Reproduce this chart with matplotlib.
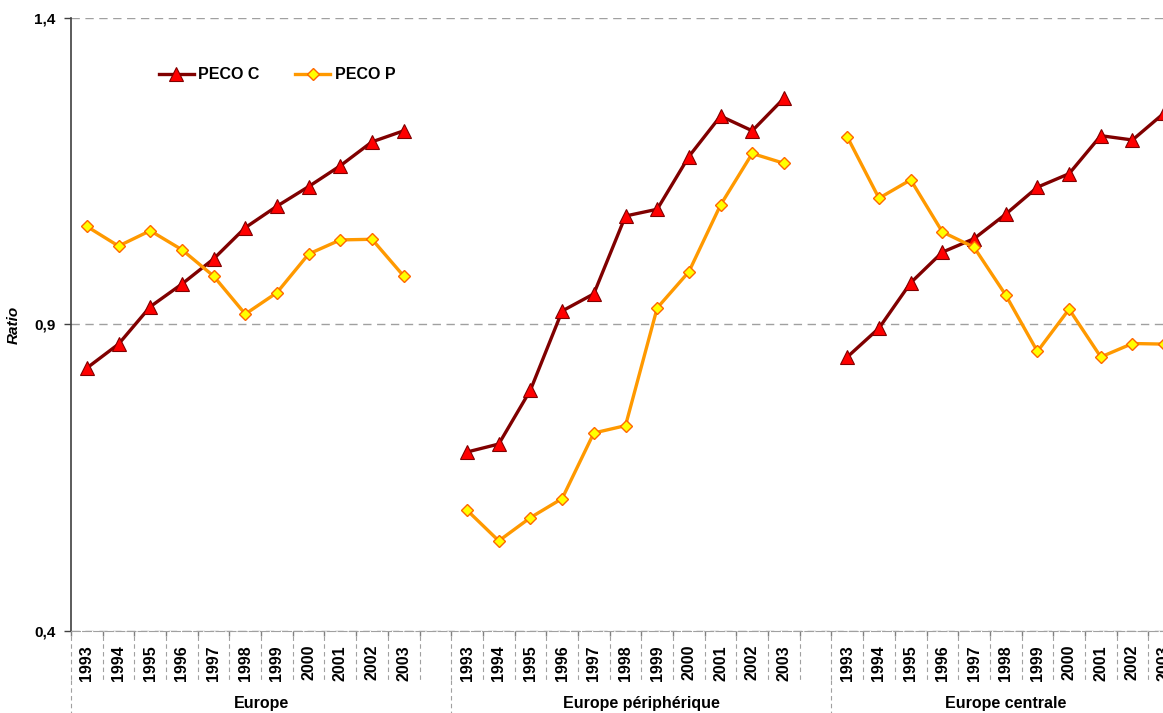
import numpy as np
import matplotlib
matplotlib.use("Agg")
import matplotlib.pyplot as plt
from matplotlib.transforms import blended_transform_factory

plt.rcParams["font.family"] = ["Liberation Sans", "DejaVu Sans"]
plt.rcParams["font.weight"] = "bold"

years = [str(y) for y in range(1993, 2004)]
groups = ["Europe", "Europe périphérique", "Europe centrale"]

peco_c = {
    "Europe": [0.829, 0.868, 0.929, 0.966, 1.007, 1.058, 1.093, 1.125, 1.159, 1.198, 1.216],
    "Europe périphérique": [0.692, 0.705, 0.793, 0.922, 0.950, 1.077, 1.088, 1.174, 1.240, 1.216, 1.269],
    "Europe centrale": [0.847, 0.894, 0.968, 1.018, 1.040, 1.080, 1.124, 1.146, 1.208, 1.201, 1.245],
}
peco_p = {
    "Europe": [1.060, 1.028, 1.053, 1.022, 0.979, 0.917, 0.952, 1.015, 1.038, 1.039, 0.979],
    "Europe périphérique": [0.597, 0.547, 0.585, 0.616, 0.723, 0.735, 0.927, 0.986, 1.095, 1.179, 1.163],
    "Europe centrale": [1.206, 1.106, 1.136, 1.051, 1.026, 0.948, 0.856, 0.925, 0.847, 0.869, 0.868],
}

W, H = 1163, 713
fig = plt.figure(figsize=(W / 100, H / 100), dpi=100)
# axis runs past the right edge of the canvas (last category is cut off)
ax = fig.add_axes([71 / W, (H - 631) / H, (1180 - 71) / W, 613 / H])

n_per = len(years) + 1          # one blank slot after each group
n_cat = n_per * len(groups) - 1
ax.set_xlim(-0.5, n_cat - 0.5)
ax.set_ylim(0.4, 1.4)

style_c = dict(color="#800000", lw=2.4, marker="^", ms=9.5, mfc="#FF0000", mec="#800000", mew=0.8)
style_p = dict(color="#FF9900", lw=2.4, marker="D", ms=6.5, mfc="#FFFF00", mec="#FF6600", mew=1.0)

for g, name in enumerate(groups):
    x = np.arange(len(years)) + g * n_per
    ax.plot(x, peco_c[name], label="PECO C" if g == 0 else None, **style_c)
    ax.plot(x, peco_p[name], label="PECO P" if g == 0 else None, **style_p)

# y axis
ax.set_yticks([0.4, 0.9, 1.4])
ax.set_yticklabels(["0,4", "0,9", "1,4"], fontsize=11, fontweight="bold")
ax.tick_params(axis="y", length=5, width=1, color="#404040", pad=6)
ax.set_ylabel("Ratio", fontsize=11, fontweight="bold", fontstyle="italic", labelpad=10)
ax.yaxis.grid(True, ls=(0, (6, 4)), color="#A0A0A0", lw=1)
ax.set_axisbelow(True)

for s in ["top", "right"]:
    ax.spines[s].set_visible(False)
ax.spines["left"].set_color("#404040")
ax.spines["left"].set_linewidth(1.2)
ax.spines["bottom"].set_color("#A0A0A0")
ax.spines["bottom"].set_linestyle((0, (8, 2)))

# category axis: years + group labels
xt, xl = [], []
for g in range(len(groups)):
    for j, y in enumerate(years):
        xt.append(g * n_per + j)
        xl.append(y)
ax.set_xticks(xt)
ax.set_xticklabels(xl, rotation=90, fontsize=11.5, fontweight="bold")
ax.tick_params(axis="x", length=0, pad=10)

tr = blended_transform_factory(ax.transData, ax.transAxes)
bounds = np.arange(n_cat + 1) - 0.5
ax.vlines(bounds, 0, -0.008, transform=tr, color="#808080", lw=1, clip_on=False)
ax.vlines(bounds, -0.008, -0.08, transform=tr, color="#A0A0A0", lw=0.8,
          ls=(0, (4, 3)), clip_on=False)
group_edges = [g * n_per - 0.5 for g in range(len(groups))] + [n_cat - 0.5]
ax.vlines(group_edges[:-1], -0.08, -0.14, transform=tr, color="#A0A0A0", lw=0.8,
          ls=(0, (4, 3)), clip_on=False)
for g, name in enumerate(groups):
    cx = (group_edges[g] + group_edges[g + 1]) / 2
    ax.text(cx, -0.118, name, transform=tr, ha="center", va="center",
            fontsize=11.5, fontweight="bold")

leg = ax.legend(loc="upper left", bbox_to_anchor=(0.066, 0.943), ncol=2, frameon=False,
                fontsize=11.5, handlelength=2.2, handletextpad=0.3, columnspacing=2.2)
for t in leg.get_texts():
    t.set_fontweight("bold")

fig.savefig("out.png", dpi=100)
